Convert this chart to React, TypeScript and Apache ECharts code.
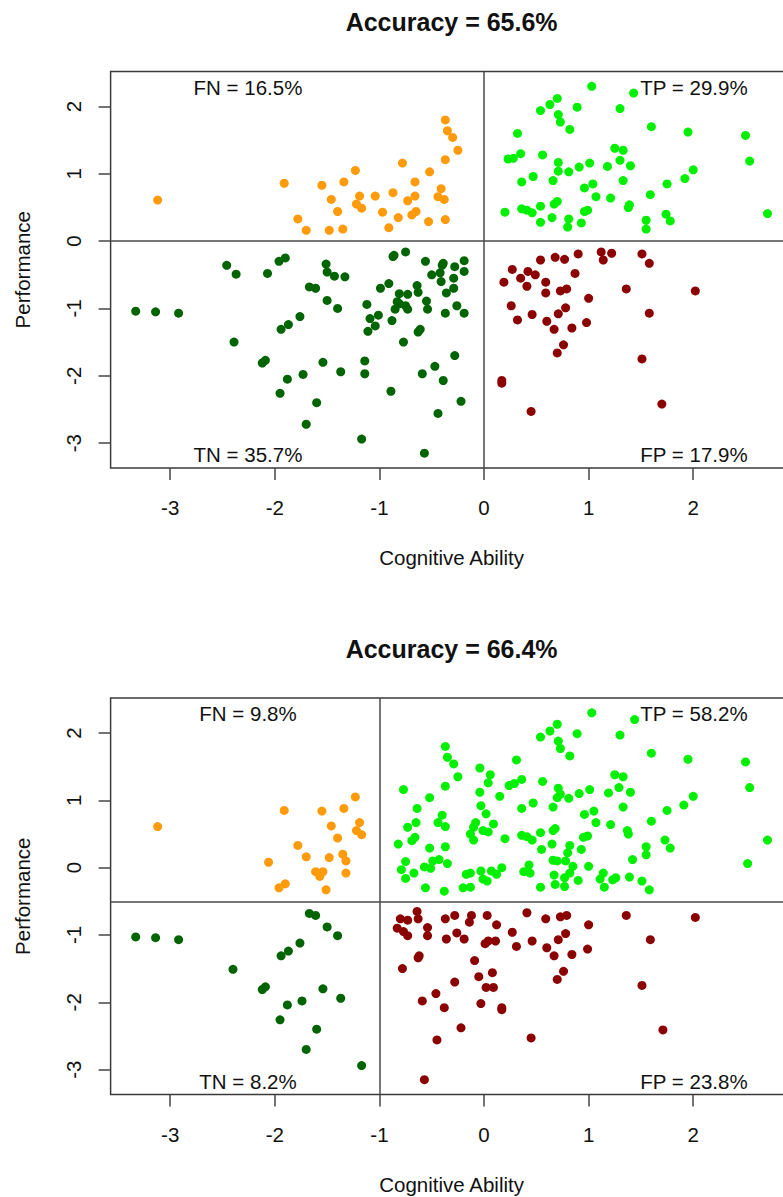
import React, { useEffect, useRef } from "react";
import * as echarts from "echarts";

type Pt = [number, number];

// ---------- Panel 1 (thresholds at x = 0, y = 0) ----------
const topTitle = "Accuracy = 65.6%";
const topLabels = ["FN = 16.5%", "TP = 29.9%", "TN = 35.7%", "FP = 17.9%"];
const topThreshold = { x: 0, y: 0 };

const topFN: Pt[] = [
  [-3.12, 0.61], [-1.91, 0.86], [-1.55, 0.83], [-1.34, 0.88], [-1.23, 1.05], [-1.46, 0.62],
  [-1.19, 0.67], [-1.22, 0.55], [-1.17, 0.49], [-1.4, 0.44], [-1.78, 0.33], [-1.7, 0.16],
  [-1.48, 0.16], [-1.35, 0.18], [-1.04, 0.67], [-0.87, 0.72], [-0.97, 0.43], [-0.82, 0.35],
  [-0.91, 0.2], [-0.78, 1.16], [-0.73, 0.6], [-0.66, 0.67], [-0.66, 0.88], [-0.69, 0.39],
  [-0.65, 0.44], [-0.52, 1.03], [-0.53, 0.29], [-0.41, 0.78], [-0.44, 0.66], [-0.38, 0.62],
  [-0.37, 0.32], [-0.37, 1.21], [-0.25, 1.35], [-0.3, 1.54], [-0.35, 1.64], [-0.37, 1.8],
];

const topTP: Pt[] = [
  [1.03, 2.3], [1.43, 2.2], [0.7, 2.12], [0.63, 2.03], [0.54, 1.94], [0.89, 1.99], [1.3, 1.97],
  [0.71, 1.88], [0.73, 1.77], [0.82, 1.66], [0.32, 1.6], [1.6, 1.7], [1.95, 1.62], [2.5, 1.57],
  [2.54, 1.19], [2.71, 0.41], [2.0, 1.06], [1.92, 0.93], [1.75, 0.85], [1.59, 0.69], [1.74, 0.4],
  [1.78, 0.3], [1.55, 0.31], [1.55, 0.18], [1.25, 1.38], [1.33, 1.35], [1.3, 1.2], [1.4, 1.12],
  [1.18, 1.11], [1.33, 0.9], [1.01, 1.16], [0.91, 1.1], [1.04, 0.85], [0.96, 0.79], [1.07, 0.66],
  [1.21, 0.64], [1.39, 0.54], [1.38, 0.5], [0.71, 1.17], [0.71, 1.04], [0.81, 1.03], [0.56, 1.28],
  [0.35, 1.3], [0.28, 1.23], [0.23, 1.22], [0.47, 0.96], [0.36, 0.88], [0.66, 0.9], [0.2, 0.43],
  [0.36, 0.48], [0.41, 0.46], [0.46, 0.42], [0.54, 0.52], [0.54, 0.28], [0.65, 0.35], [0.67, 0.55],
  [0.7, 0.59], [0.81, 0.33], [0.8, 0.21], [0.93, 0.27], [0.96, 0.44], [0.99, 0.46],
];

const topTN: Pt[] = [
  [-3.33, -1.04], [-3.14, -1.05], [-2.92, -1.07], [-2.46, -0.36], [-2.37, -0.49], [-2.07, -0.48],
  [-1.96, -0.3], [-1.9, -0.25], [-2.39, -1.5], [-2.12, -1.81], [-2.09, -1.77], [-1.94, -1.31],
  [-1.87, -1.24], [-1.76, -1.12], [-1.95, -2.26], [-1.88, -2.05], [-1.73, -1.98], [-1.7, -2.72],
  [-1.6, -2.4], [-1.67, -0.68], [-1.61, -0.7], [-1.5, -0.88], [-1.4, -1.0], [-1.51, -0.34],
  [-1.5, -0.46], [-1.43, -0.52], [-1.33, -0.53], [-1.54, -1.8], [-1.37, -1.94], [-1.17, -2.94],
  [-1.14, -1.78], [-1.14, -1.97], [-1.12, -0.94], [-1.09, -1.15], [-1.11, -1.34], [-1.04, -1.26],
  [-1.01, -1.1], [-0.99, -0.7], [-0.91, -0.63], [-0.87, -0.23], [-0.86, -0.21], [-0.75, -0.16],
  [-0.88, -1.18], [-0.89, -2.23], [-0.77, -1.5], [-0.81, -0.78], [-0.73, -0.79], [-0.83, -0.9],
  [-0.81, -0.93], [-0.85, -1.01], [-0.75, -0.96], [-0.73, -1.01], [-0.64, -0.66], [-0.63, -0.76],
  [-0.55, -0.89], [-0.54, -1.01], [-0.63, -1.35], [-0.61, -1.31], [-0.56, -0.3], [-0.5, -0.5],
  [-0.42, -0.47], [-0.4, -0.36], [-0.39, -0.33], [-0.41, -0.6], [-0.28, -0.38], [-0.19, -0.29],
  [-0.19, -0.45], [-0.29, -0.55], [-0.29, -0.7], [-0.36, -0.77], [-0.37, -1.07], [-0.26, -0.96],
  [-0.19, -1.07], [-0.28, -1.7], [-0.47, -1.86], [-0.59, -1.97], [-0.39, -2.07], [-0.22, -2.38],
  [-0.44, -2.56], [-0.57, -3.15],
];

const topFP: Pt[] = [
  [1.12, -0.16], [1.22, -0.18], [1.14, -0.28], [0.9, -0.19], [0.68, -0.24], [0.77, -0.27],
  [0.54, -0.28], [1.51, -0.19], [1.58, -0.33], [0.27, -0.42], [0.19, -0.61], [0.35, -0.55],
  [0.42, -0.45], [0.49, -0.5], [0.41, -0.67], [0.59, -0.61], [0.59, -0.77], [0.73, -0.74],
  [0.79, -0.71], [0.87, -0.48], [1.0, -0.85], [1.36, -0.71], [2.02, -0.74], [1.58, -1.07],
  [0.26, -0.96], [0.32, -1.17], [0.46, -1.09], [0.6, -1.19], [0.67, -1.31], [0.71, -1.08],
  [0.78, -0.99], [0.84, -1.29], [0.98, -1.21], [0.76, -1.54], [0.7, -1.66], [1.51, -1.75],
  [0.17, -2.07], [0.17, -2.11], [0.45, -2.53], [1.7, -2.42],
];

// ---------- Panel 2 (thresholds at x = -1, y = -0.5) ----------
const botTitle = "Accuracy = 66.4%";
const botLabels = ["FN = 9.8%", "TP = 58.2%", "TN = 8.2%", "FP = 23.8%"];
const botThreshold = { x: -1, y: -0.5 };

const botFN: Pt[] = [
  [-3.12, 0.61], [-1.91, 0.85], [-1.55, 0.84], [-1.34, 0.88], [-1.23, 1.05], [-1.46, 0.62],
  [-1.19, 0.67], [-1.22, 0.55], [-1.17, 0.49], [-1.4, 0.44], [-1.78, 0.33], [-1.7, 0.16],
  [-1.48, 0.15], [-1.35, 0.2], [-1.32, 0.1], [-1.32, -0.08], [-2.06, 0.08], [-1.61, -0.06],
  [-1.54, -0.06], [-1.57, -0.13], [-1.96, -0.3], [-1.9, -0.24], [-1.51, -0.33],
];

const botTP: Pt[] = [
  [1.03, 2.3], [1.44, 2.2], [0.7, 2.13], [0.63, 2.03], [0.54, 1.94], [0.89, 1.99], [1.3, 1.97],
  [0.71, 1.88], [0.73, 1.77], [0.82, 1.66], [1.6, 1.7], [1.95, 1.61], [2.5, 1.57], [2.54, 1.19],
  [2.71, 0.41], [2.52, 0.06], [2.0, 1.06], [1.91, 0.93], [1.75, 0.85], [1.6, 0.69], [1.73, 0.41],
  [1.78, 0.29], [1.55, 0.31], [1.55, 0.19], [1.42, 0.12], [1.39, -0.14], [1.51, -0.2], [1.58, -0.33],
  [1.25, 1.38], [1.33, 1.35], [1.29, 1.19], [1.4, 1.12], [1.19, 1.11], [1.33, 0.9], [1.37, 0.55],
  [1.38, 0.5], [1.21, 0.64], [1.07, 0.67], [1.05, 0.84], [0.96, 0.79], [1.01, 1.16], [0.91, 1.1],
  [0.81, 1.03], [0.71, 1.18], [0.73, 1.09], [0.7, 1.04], [0.66, 0.9], [0.56, 1.28], [0.47, 0.96],
  [0.36, 0.88], [0.36, 1.31], [0.29, 1.25], [0.24, 1.22], [0.31, 1.6], [0.15, 1.06], [0.06, 1.38],
  [0.04, 1.26], [-0.04, 1.48], [-0.04, 1.12], [-0.03, 0.92], [0.02, 0.8], [0.09, 0.65], [0.04, 0.53],
  [-0.01, 0.55], [-0.08, 0.67], [-0.1, 0.6], [-0.13, 0.5], [-0.1, 0.41], [0.2, 0.43], [0.36, 0.48],
  [0.41, 0.46], [0.46, 0.41], [0.54, 0.52], [0.66, 0.55], [0.68, 0.58], [0.65, 0.35], [0.55, 0.27],
  [0.82, 0.33], [0.8, 0.22], [0.93, 0.27], [0.95, 0.45], [0.99, 0.47], [0.66, 0.11], [0.7, 0.1],
  [0.78, 0.1], [1.0, 0.02], [0.85, 0.02], [0.82, -0.08], [0.77, -0.15], [0.67, -0.11], [0.68, -0.25],
  [0.77, -0.28], [0.9, -0.19], [1.14, -0.08], [1.11, -0.17], [1.15, -0.29], [1.23, -0.18],
  [1.26, -0.15], [0.54, -0.29], [0.43, 0.04], [0.38, -0.06], [0.44, -0.08], [0.12, -0.1], [0.17, 0.0],
  [0.07, -0.05], [0.03, -0.2], [-0.03, -0.05], [-0.13, -0.08], [-0.17, -0.1], [-0.01, -0.17],
  [-0.13, -0.29], [-0.2, -0.3], [-0.38, -0.35], [-0.56, -0.3], [-0.75, -0.16], [-0.79, -0.03],
  [-0.75, 0.09], [-0.67, -0.08], [-0.57, 0.01], [-0.51, -0.01], [-0.49, 0.1], [-0.43, 0.12],
  [-0.35, 0.06], [-0.52, 0.29], [-0.37, 0.31], [-0.82, 0.35], [-0.69, 0.4], [-0.66, 0.45],
  [-0.73, 0.6], [-0.65, 0.67], [-0.64, 0.88], [-0.77, 1.16], [-0.52, 1.04], [-0.37, 1.21],
  [-0.4, 0.78], [-0.44, 0.67], [-0.37, 0.61], [-0.25, 1.35], [-0.29, 1.54], [-0.35, 1.64],
  [-0.37, 1.8],
];

const botTN: Pt[] = [
  [-3.33, -1.03], [-3.14, -1.04], [-2.92, -1.07], [-2.4, -1.51], [-2.12, -1.81], [-2.09, -1.77],
  [-1.94, -1.31], [-1.87, -1.24], [-1.76, -1.12], [-1.95, -2.26], [-1.88, -2.04], [-1.74, -1.98],
  [-1.7, -2.7], [-1.6, -2.4], [-1.67, -0.68], [-1.61, -0.71], [-1.5, -0.88], [-1.4, -1.01],
  [-1.54, -1.8], [-1.37, -1.94], [-1.17, -2.94],
];

const botFP: Pt[] = [
  [-0.8, -0.76], [-0.73, -0.78], [-0.64, -0.65], [-0.63, -0.76], [-0.83, -0.9], [-0.77, -0.95],
  [-0.73, -1.01], [-0.54, -0.89], [-0.54, -1.01], [-0.37, -0.76], [-0.28, -0.71], [-0.36, -1.06],
  [-0.26, -0.97], [-0.19, -1.06], [-0.14, -0.81], [-0.12, -0.71], [0.03, -0.71], [0.12, -0.85],
  [0.41, -0.67], [0.59, -0.76], [0.73, -0.73], [0.79, -0.71], [1.0, -0.85], [1.36, -0.71],
  [2.02, -0.74], [0.27, -0.96], [0.01, -1.13], [0.04, -1.09], [0.11, -1.09], [0.31, -1.17],
  [0.46, -1.09], [0.6, -1.19], [0.67, -1.31], [0.71, -1.07], [0.78, -0.98], [0.84, -1.29],
  [0.99, -1.21], [1.59, -1.07], [0.76, -1.54], [0.7, -1.66], [1.51, -1.75], [1.71, -2.41],
  [0.45, -2.53], [-0.57, -3.15], [-0.45, -2.56], [-0.22, -2.38], [0.17, -2.08], [0.17, -2.11],
  [-0.03, -2.02], [0.09, -1.78], [0.02, -1.78], [-0.05, -1.62], [0.08, -1.56], [-0.09, -1.38],
  [-0.28, -1.7], [-0.38, -2.08], [-0.46, -1.87], [-0.59, -1.98], [-0.78, -1.5], [-0.62, -1.31],
  [-0.63, -1.34],
];

// ---------- Axes ----------
const xTicks = [-3, -2, -1, 0, 1, 2];
const yTicks = [-3, -2, -1, 0, 1, 2];
const xRange = [-3.57, 2.95];
const yRange = [-3.37, 2.52];
const xName = "Cognitive Ability";
const yName = "Performance";

const COLORS = { FN: "#FF9A0A", TP: "#00F000", TN: "#006400", FP: "#8B0000" };
const FONT = "'Liberation Sans', Arial, Helvetica, sans-serif";

export default function App() {
  const ref = useRef<HTMLDivElement>(null);

  useEffect(() => {
    document.body.style.margin = "0";
    document.body.style.overflow = "hidden";
    if (!ref.current) return;
    const chart = echarts.init(ref.current, undefined, { renderer: "svg" });

    const GRID_LEFT = 110.6;
    const GRID_W = 682;
    const GRID_H = 396.5;
    const tops = [71.5, 698];

    const panels = [
      { title: topTitle, labels: topLabels, thr: topThreshold, fn: topFN, tp: topTP, tn: topTN, fp: topFP },
      { title: botTitle, labels: botLabels, thr: botThreshold, fn: botFN, tp: botTP, tn: botTN, fp: botFP },
    ];

    const grid = tops.map((t) => ({
      left: GRID_LEFT,
      top: t,
      width: GRID_W,
      height: GRID_H,
      show: true,
      borderColor: "#3a3a3a",
      borderWidth: 1.5,
      backgroundColor: "transparent",
    }));

    const tickStyle = { color: "#444", width: 1.5 };
    const xAxis = tops.map((_, i) => ({
      type: "value",
      gridIndex: i,
      position: "bottom",
      min: xRange[0],
      max: xRange[1],
      axisLine: { show: false, onZero: false },
      splitLine: { show: false },
      axisTick: { show: true, inside: false, length: 12, customValues: xTicks, lineStyle: tickStyle },
      axisLabel: { customValues: xTicks, fontSize: 20.5, color: "#111", margin: 29, fontFamily: FONT },
    }));
    const yAxis = tops.map((_, i) => ({
      type: "value",
      gridIndex: i,
      position: "left",
      min: yRange[0],
      max: yRange[1],
      axisLine: { show: false, onZero: false },
      splitLine: { show: false },
      axisTick: { show: true, inside: false, length: 12, customValues: yTicks, lineStyle: tickStyle },
      axisLabel: { customValues: yTicks, fontSize: 20.5, color: "#111", margin: 27, rotate: 90, fontFamily: FONT },
    }));

    const series: any[] = [];
    panels.forEach((p, i) => {
      const groups: [string, Pt[], string][] = [
        ["FN", p.fn, COLORS.FN],
        ["TP", p.tp, COLORS.TP],
        ["TN", p.tn, COLORS.TN],
        ["FP", p.fp, COLORS.FP],
      ];
      groups.forEach(([name, data, color], k) => {
        const s: any = {
          type: "scatter",
          name: name + i,
          xAxisIndex: i,
          yAxisIndex: i,
          data,
          symbol: "circle",
          symbolSize: 9,
          itemStyle: { color, opacity: 1 },
          emphasis: { disabled: true },
          silent: true,
        };
        if (k === 0) {
          s.markLine = {
            silent: true,
            symbol: "none",
            label: { show: false },
            lineStyle: { color: "#4a4a4a", width: 1.5, type: "solid" },
            data: [{ xAxis: p.thr.x }, { yAxis: p.thr.y }],
          };
        }
        series.push(s);
      });
    });

    const text = (t: string, x: number, y: number, size: number, bold = false, rotation = 0) => ({
      type: "text",
      x,
      y,
      rotation,
      silent: true,
      style: {
        text: t,
        fill: "#111",
        fontSize: size,
        fontFamily: FONT,
        fontWeight: bold ? "bold" : "normal",
        align: "center",
        verticalAlign: "middle",
      },
    });

    const graphic: any[] = [];
    panels.forEach((p, i) => {
      const top = tops[i];
      const cx = GRID_LEFT + GRID_W / 2;
      graphic.push(text(p.title, cx, top - 49.5, 25, true));
      graphic.push(text(p.labels[0], 248, top + 15.5, 20.5));
      graphic.push(text(p.labels[1], 694, top + 15.5, 20.5));
      graphic.push(text(p.labels[2], 248, top + 383, 20.5));
      graphic.push(text(p.labels[3], 694, top + 383, 20.5));
      graphic.push(text(xName, cx, top + 486, 20.5));
      graphic.push(text(yName, 22, top + GRID_H / 2, 20.5, false, Math.PI / 2));
    });

    chart.setOption({
      animation: false,
      backgroundColor: "#ffffff",
      grid,
      xAxis,
      yAxis,
      series,
      graphic,
    });

    return () => chart.dispose();
  }, []);

  return (
    <div style={{ width: 783, height: 1197, overflow: "hidden", position: "relative" }}>
      <div ref={ref} style={{ width: 812, height: 1197 }} />
    </div>
  );
}
